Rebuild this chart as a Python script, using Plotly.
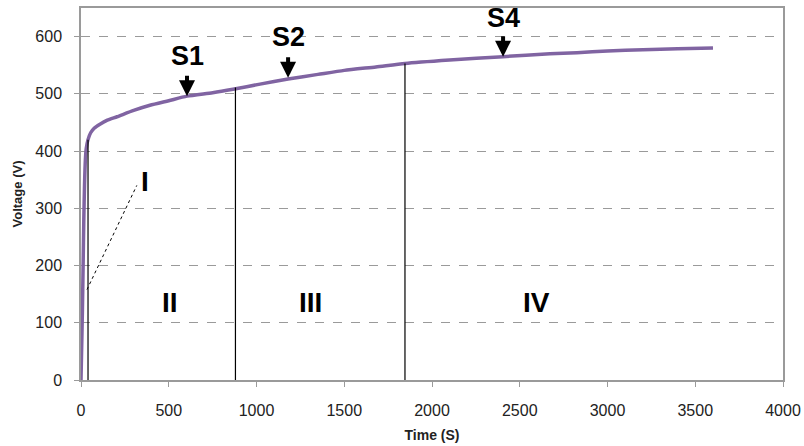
import plotly.graph_objects as go

# Curve data (time in s, voltage in V)
time_s = [0, 4, 8, 12, 16, 20, 25, 30, 40, 55, 75, 108, 150, 205, 300, 393, 500, 604, 750, 866,
          1020, 1180, 1350, 1500, 1680, 1846, 2100, 2405, 2672, 2826, 3000, 3202, 3400, 3601]
voltage_v = [0, 60, 120, 200, 280, 340, 385, 405, 420, 432, 440, 447, 454, 460, 471, 480, 488, 496, 502, 508,
             517, 526, 534, 541, 547, 553, 559, 565, 570, 572, 575, 577, 579, 580]

# Region boundary lines
boundary_t = [40, 880, 1846]
boundary_v = [420, 511, 553]

# Region labels
region_labels = ["I", "II", "III", "IV"]
region_t = [365, 507, 1305, 2598]
region_v = [347, 135, 135, 135]

# Marker arrows
marker_labels = ["S1", "S2", "S4"]
marker_t = [604, 1180, 2405]
marker_v = [496, 528, 565]
marker_text_v = [567, 599, 632]

purple = "#8064A2"
font_fam = "Liberation Sans, Arial, sans-serif"

fig = go.Figure()
fig.add_trace(go.Scatter(x=time_s, y=voltage_v, mode="lines",
                         line=dict(color=purple, width=3.5, shape="spline", smoothing=0.6),
                         showlegend=False, hoverinfo="skip"))

for t, v in zip(boundary_t, boundary_v):
    fig.add_trace(go.Scatter(x=[t, t], y=[0, v], mode="lines",
                             line=dict(color="black", width=1.2),
                             showlegend=False, hoverinfo="skip"))

# Leader line for region I
fig.add_trace(go.Scatter(x=[34, 318], y=[158, 340], mode="lines",
                         line=dict(color="black", width=1, dash="dot"),
                         showlegend=False, hoverinfo="skip"))

annotations = []
for lab, t, v in zip(region_labels, region_t, region_v):
    annotations.append(dict(x=t, y=v, xref="x", yref="y", text="<b>%s</b>" % lab, showarrow=False,
                            font=dict(family=font_fam, size=28, color="black"),
                            xanchor="center", yanchor="middle"))
for lab, t, v, tv in zip(marker_labels, marker_t, marker_v, marker_text_v):
    annotations.append(dict(x=t, y=tv, xref="x", yref="y", text="<b>%s</b>" % lab, showarrow=False,
                            font=dict(family=font_fam, size=27, color="black"),
                            xanchor="center", yanchor="middle"))
    annotations.append(dict(x=t, y=v, xref="x", yref="y", text="", showarrow=True,
                            ax=0, ay=-22, arrowhead=2, arrowsize=0.8, arrowwidth=4,
                            arrowcolor="black", standoff=0))

fig.update_layout(
    width=804, height=446, autosize=False,
    margin=dict(l=81, r=21, t=8, b=66, autoexpand=False),
    paper_bgcolor="white", plot_bgcolor="white",
    font=dict(family=font_fam, size=16, color="#222222"),
    annotations=annotations,
    xaxis=dict(range=[0, 4000], tickvals=[0, 500, 1000, 1500, 2000, 2500, 3000, 3500, 4000],
               automargin=False,
               showgrid=False, zeroline=False, showline=True, linecolor="#9a9a9a", linewidth=1.5,
               mirror=True, ticks="outside", ticklen=5, tickcolor="#9a9a9a",
               ticklabelstandoff=10,
               tickfont=dict(size=16, color="#222222"),
               title=dict(text="<b>Time (S)</b>", font=dict(size=14, color="#222222"), standoff=12)),
    yaxis=dict(range=[0, 650], tickvals=[0, 100, 200, 300, 400, 500, 600],
               automargin=False,
               showgrid=True, gridcolor="#9a9a9a", griddash="dash", gridwidth=1.2,
               zeroline=False, showline=True, linecolor="#9a9a9a", linewidth=1.5,
               mirror=True, ticks="outside", ticklen=5, tickcolor="#9a9a9a",
               ticklabelstandoff=9,
               tickfont=dict(size=16, color="#222222"),
               title=dict(text="<b>Voltage (V)</b>", font=dict(size=13, color="#222222"), standoff=10)),
)

fig.write_html("out.html")
